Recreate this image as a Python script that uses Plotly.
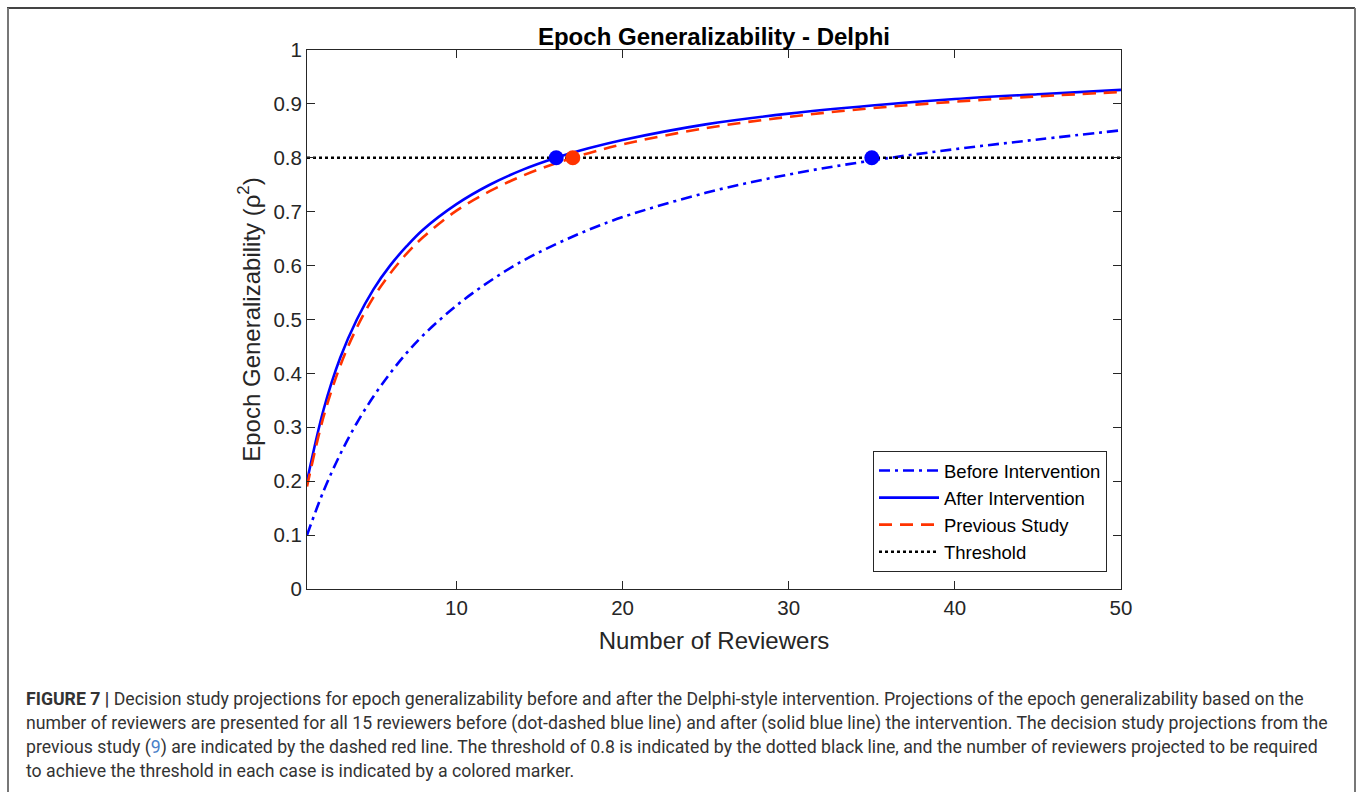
import plotly.graph_objects as go

# ---- data ----
reviewers = [1, 2, 3, 4, 5, 6, 7, 8, 10, 12, 14, 16, 18, 20, 25, 30, 35, 40, 45, 50]
before_intervention = [0.100, 0.182, 0.250, 0.308, 0.357, 0.400, 0.438, 0.471, 0.526, 0.571,
                       0.609, 0.640, 0.667, 0.690, 0.735, 0.769, 0.795, 0.816, 0.834, 0.851]
after_intervention = [0.200, 0.333, 0.429, 0.500, 0.556, 0.600, 0.636, 0.667, 0.714, 0.750,
                      0.778, 0.800, 0.818, 0.833, 0.862, 0.882, 0.897, 0.909, 0.918, 0.926]
previous_study = [0.190, 0.320, 0.414, 0.485, 0.541, 0.585, 0.622, 0.653, 0.702, 0.738,
                  0.767, 0.790, 0.809, 0.825, 0.855, 0.876, 0.892, 0.904, 0.914, 0.922]
threshold_value = 0.8
threshold_x = [1, 50]
marker_reviewers = [16, 17, 35]
marker_values = [0.8, 0.8, 0.8]
marker_colors = ["#0000ff", "#ff3300", "#0000ff"]

x_ticks = [10, 20, 30, 40, 50]
y_ticks = [0, 0.1, 0.2, 0.3, 0.4, 0.5, 0.6, 0.7, 0.8, 0.9, 1]
y_tick_labels = ["0", "0.1", "0.2", "0.3", "0.4", "0.5", "0.6", "0.7", "0.8", "0.9", "1"]

caption_lines = [
    "<b>FIGURE 7 |</b> Decision study projections for epoch generalizability before and after the Delphi-style intervention. Projections of the epoch generalizability based on the",
    "number of reviewers are presented for all 15 reviewers before (dot-dashed blue line) and after (solid blue line) the intervention. The decision study projections from the",
    "previous study (<span style='color:#4a80c8'>9</span>) are indicated by the dashed red line. The threshold of 0.8 is indicated by the dotted black line, and the number of reviewers projected to be required",
    "to achieve the threshold in each case is indicated by a colored marker.",
]

W, H = 1357, 792
L, R, T, B = 307, 1121, 50, 589  # plot area in pixels
pw, ph = R - L, B - T

def px(x):
    return (x - L) / pw

def py(y):
    return (B - y) / ph

axis_color = "#262626"
font_main = "Liberation Sans, Arial, sans-serif"

fig = go.Figure()
fig.add_trace(go.Scatter(x=reviewers, y=before_intervention, mode="lines", name="Before Intervention",
                         line=dict(color="#0000ff", width=2.6, dash="11px,5px,3px,5px", shape="spline")))
fig.add_trace(go.Scatter(x=reviewers, y=after_intervention, mode="lines", name="After Intervention",
                         line=dict(color="#0000ff", width=2.6, shape="spline")))
fig.add_trace(go.Scatter(x=reviewers, y=previous_study, mode="lines", name="Previous Study",
                         line=dict(color="#ff3300", width=2.6, dash="13px,8px", shape="spline")))
fig.add_trace(go.Scatter(x=threshold_x, y=[threshold_value] * len(threshold_x), mode="lines", name="Threshold",
                         line=dict(color="#000000", width=2.6, dash="3px,3px")))
fig.add_trace(go.Scatter(x=marker_reviewers, y=marker_values, mode="markers", showlegend=False,
                         marker=dict(color=marker_colors, size=15, line=dict(width=0))))

fig.update_layout(
    width=W, height=H,
    margin=dict(l=L, r=W - R, t=T, b=H - B),
    paper_bgcolor="white", plot_bgcolor="white",
    font=dict(family=font_main, color=axis_color),
    title=dict(text="<b>Epoch Generalizability - Delphi</b>", x=0.5, xref="paper", xanchor="center",
               y=1 - 37 / H, yanchor="middle", font=dict(size=24, color="#000000", family=font_main)),
    showlegend=True,
    legend=dict(x=px(1107), y=py(572), xanchor="right", yanchor="bottom",
                bgcolor="white", bordercolor=axis_color, borderwidth=1,
                font=dict(size=18.5, color="#000000", family=font_main),
                tracegroupgap=0, itemwidth=60),
    xaxis=dict(range=[1, 50], tickvals=x_ticks, ticks="inside", ticklen=8, tickcolor=axis_color,
               showline=True, linecolor=axis_color, linewidth=1, mirror="allticks",
               showgrid=False, zeroline=False, tickfont=dict(size=20.5, color=axis_color),
               title=dict(text="Number of Reviewers", font=dict(size=24, color=axis_color), standoff=14)),
    yaxis=dict(range=[0, 1], tickvals=y_ticks, ticktext=y_tick_labels, ticks="inside", ticklen=8,
               tickcolor=axis_color, showline=True, linecolor=axis_color, linewidth=1, mirror="allticks",
               showgrid=False, zeroline=False, tickfont=dict(size=20.5, color=axis_color),
               title=dict(text="Epoch Generalizability (ρ<sup>2</sup>)", font=dict(size=24, color=axis_color),
                          standoff=6)),
)

# page frame
fig.add_shape(type="line", xref="paper", yref="paper", x0=px(7), x1=px(1355), y0=py(8), y1=py(8),
              line=dict(color="#444444", width=2))
fig.add_shape(type="line", xref="paper", yref="paper", x0=px(8), x1=px(8), y0=py(8), y1=py(800),
              line=dict(color="#777777", width=2))
fig.add_shape(type="line", xref="paper", yref="paper", x0=px(1355), x1=px(1355), y0=py(8), y1=py(800),
              line=dict(color="#777777", width=2))

# caption
for i, line in enumerate(caption_lines):
    fig.add_annotation(text=line, xref="paper", yref="paper", x=px(24), y=py(699 + 24 * i),
                       xanchor="left", yanchor="middle", showarrow=False, align="left",
                       font=dict(size=17.7, color="#333333", family="Roboto, sans-serif"))

fig.write_html("out.html")
